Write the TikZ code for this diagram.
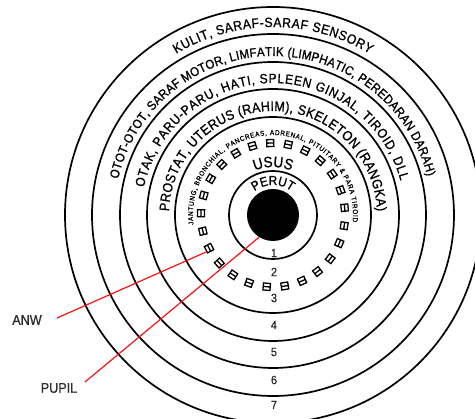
\documentclass[tikz,border=0pt]{standalone}
\usepackage{fontspec}
\setmainfont{Liberation Sans}
\newfontfamily\irisfont{Liberation Sans}[FakeBold=1,FakeStretch=0.9]
\usetikzlibrary{decorations.text}
\definecolor{IrisRed}{RGB}{245,20,20}
\definecolor{IrisGrey}{RGB}{45,45,45}

\begin{document}
\begin{tikzpicture}[x=1pt,y=1pt,
ring/.style={draw=black,line width=1.7pt},
zonetext/.style={decorate,decoration={text along path,text align={fit to path},text={#1}}},
midtext/.style={decorate,decoration={text along path,text align=center,text={#1}}},
anwmark/.style={draw=black,line width=1.3pt},
num/.style={text=IrisGrey,font=\irisfont\fontsize{12}{12}\selectfont,inner sep=0pt},
lbl/.style={text=IrisGrey,font=\irisfont\fontsize{14}{14}\selectfont,inner sep=0pt},
pointer/.style={draw=IrisRed,line width=1.2pt}
]
\useasboundingbox (-273,-204) rectangle (202,215);
\clip (-273,-204) rectangle (202,215);
\foreach \r in {44,98,126,153,181,208}
  \draw[ring] (0,0) circle[radius=\r];
\path[zonetext={|\irisfont\fontsize{13.5}{13.5}\selectfont|KULIT, SARAF-SARAF SENSORY}] (121:188) arc[start angle=121,end angle=59,radius=188];
\path[zonetext={|\irisfont\fontsize{12.8}{12.8}\selectfont|OTOT-OTOT, SARAF MOTOR, LIMFATIK (LIMPHATIC, PEREDARAN DARAH)}] (167:159) arc[start angle=167,end angle=14,radius=159];
\path[zonetext={|\irisfont\fontsize{13.3}{13.3}\selectfont|OTAK, PARU-PARU, HATI, SPLEEN GINJAL, TIROID, DLL}] (168:132) arc[start angle=168,end angle=15,radius=132];
\path[zonetext={|\irisfont\fontsize{13.8}{13.8}\selectfont|PROSTAT, UTERUS (RAHIM), SKELETON (RANGKA)}] (178:104) arc[start angle=178,end angle=2,radius=104];
\path[zonetext={|\irisfont\fontsize{7}{7}\selectfont|JANTUNG, BRONCHIAL, PANCREAS, ADRENAL, PITUITARY {\&} PARA TIROID}] (187:80) arc[start angle=187,end angle=-5,radius=80];
\path[midtext={|\irisfont\fontsize{15}{15}\selectfont|USUS}] (135:48) arc[start angle=135,end angle=45,radius=48];
\path[midtext={|\irisfont\fontsize{13}{13}\selectfont|PERUT}] (150:30) arc[start angle=150,end angle=30,radius=30];
\foreach \k in {0,...,24}
  \draw[anwmark,rotate=265+14.4*\k] (68.5,-3.5) rectangle (75.5,3.5) (72,-3.5) -- (72,3.5);
\node[circle,fill=black,minimum size=52pt,inner sep=0pt] (pupil) at (0,0) {};
\foreach \n/\y in {1/-38,2/-57,3/-83,4/-110,5/-137,6/-165,7/-190}
  \node[num] (zone\n) at (1,\y) {\n};
\node[lbl] (anw) at (-246,-105) {ANW};
\node[lbl] (pupillbl) at (-214,-173) {PUPIL};
\coordinate (anwtail) at (-216,-103);
\coordinate (anwhead) at (209:76);
\coordinate (pupiltail) at (-188,-167);
\draw[pointer] (anwtail) -- (anwhead);
\draw[pointer] (pupiltail) -- (pupil.238);
\end{tikzpicture}
\end{document}
